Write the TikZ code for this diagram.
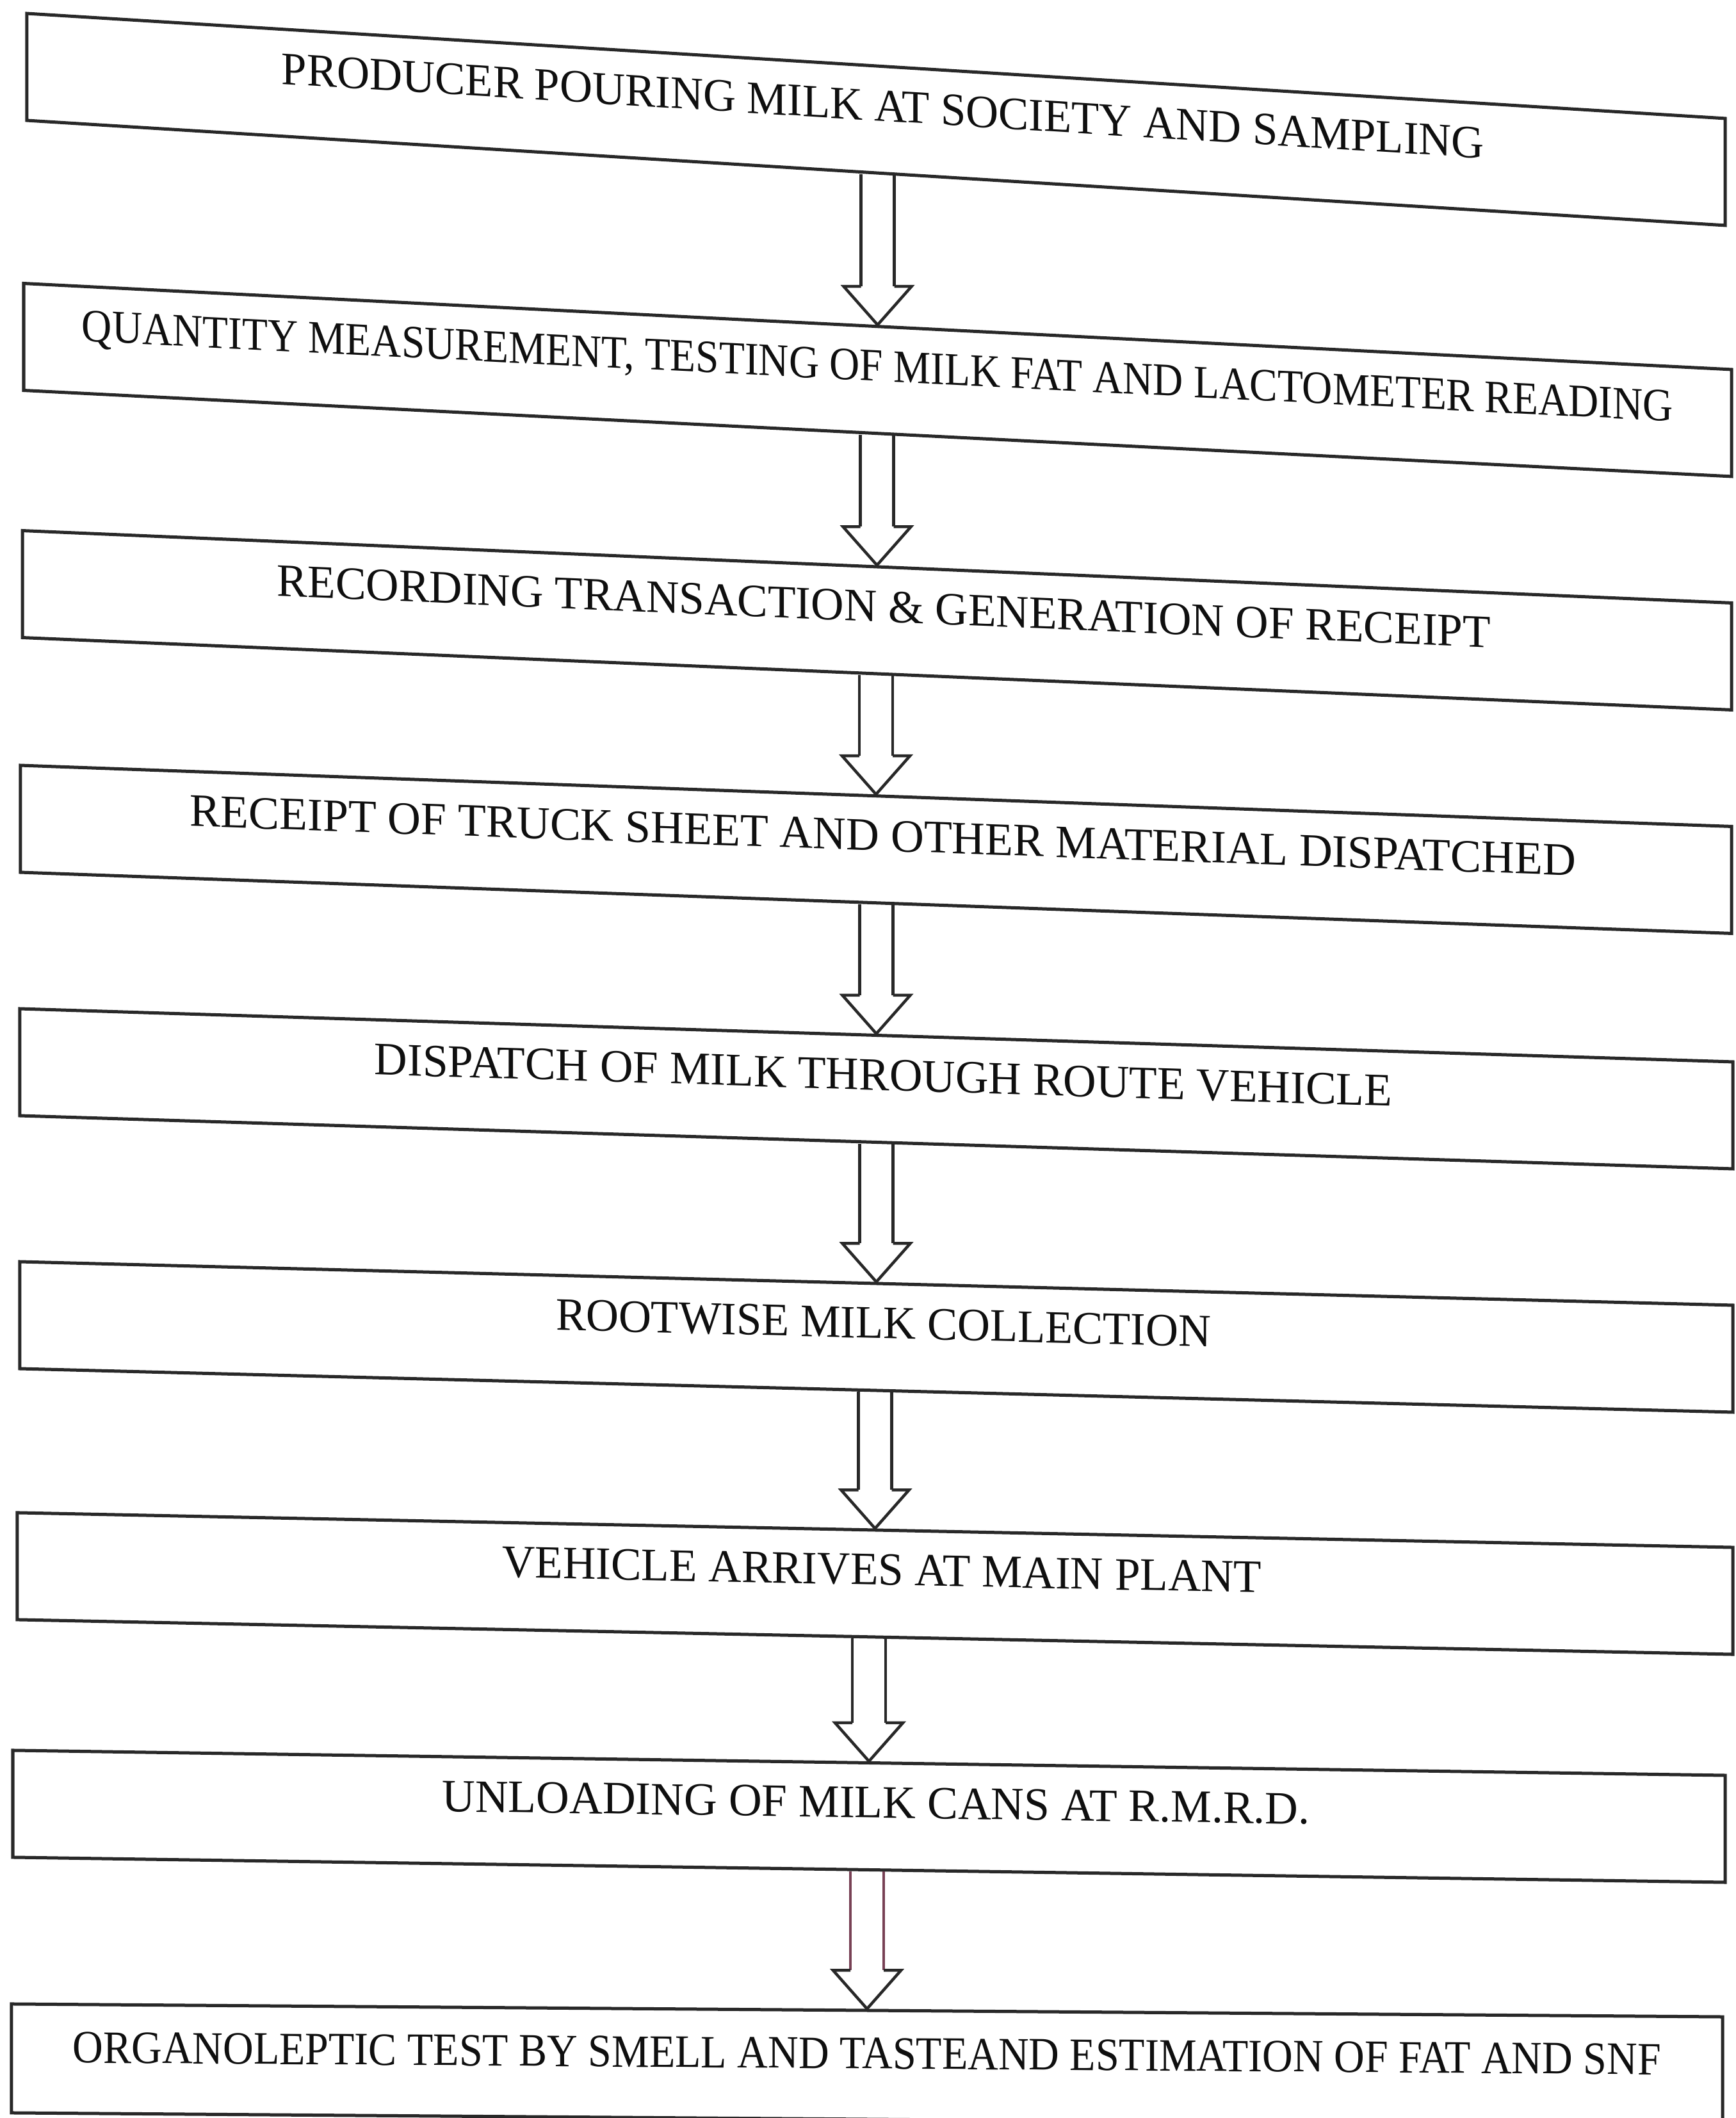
\documentclass[tikz,border=0pt]{standalone}
\usepackage{fontspec}
\setmainfont{Liberation Serif}
\usepackage{graphicx}
\usetikzlibrary{calc}
\definecolor{inkline}{RGB}{40,40,40}
\definecolor{inktext}{RGB}{15,15,15}
\definecolor{pinkink}{RGB}{120,65,85}
\tikzset{
  stepbox/.style={draw=inkline, line width=0.05cm, rectangle, inner sep=0pt,
    minimum height=1.67cm, text height=0.855cm, text depth=0.815cm,
    font=\fontsize{20.6pt}{24pt}\selectfont, text=inktext},
  arrowline/.style={draw=inkline, line width=0.045cm, line join=miter},
}
\newcommand\boxtext[2]{\hspace*{0.22cm}\resizebox{#1}{\height}{#2}}
\newcommand\hollowarrow[3][inkline]{%
  \coordinate (tipP) at (#3.north);
  \coordinate (startP) at (#3.north |- #2.south);
  \draw[arrowline, draw=#1] ($(startP)+(-0.26,0)$) -- ($(tipP)+(-0.26,0.60)$);
  \draw[arrowline, draw=#1] ($(startP)+(0.26,0)$) -- ($(tipP)+(0.26,0.60)$);
  \draw[arrowline] ($(tipP)+(-0.26,0.60)$) -- ($(tipP)+(-0.53,0.60)$) -- (tipP)
    -- ($(tipP)+(0.53,0.60)$) -- ($(tipP)+(0.26,0.60)$);
}
\begin{document}
\begin{tikzpicture}
\useasboundingbox (0,0) rectangle (27.11,33.07);
\node[stepbox, minimum width=26.52cm, yslant=-0.0618] (b1) at (13.68,31.205)
  {\boxtext{18.78cm}{PRODUCER POURING MILK AT SOCIETY AND SAMPLING}};
\node[stepbox, minimum width=26.67cm, yslant=-0.0504] (b2) at (13.705,27.1375)
  {\resizebox{24.85cm}{\height}{QUANTITY MEASUREMENT, TESTING OF MILK FAT AND LACTOMETER READING}};
\node[stepbox, minimum width=26.69cm, yslant=-0.0423] (b3) at (13.695,23.385)
  {\boxtext{18.95cm}{RECORDING TRANSACTION \& GENERATION OF RECEIPT}};
\node[stepbox, minimum width=26.72cm, yslant=-0.0357] (b4) at (13.68,19.8075)
  {\boxtext{21.64cm}{RECEIPT OF TRUCK SHEET AND OTHER MATERIAL DISPATCHED}};
\node[stepbox, minimum width=26.75cm, yslant=-0.031] (b5) at (13.685,16.07)
  {\boxtext{15.89cm}{DISPATCH OF MILK THROUGH ROUTE VEHICLE}};
\node[stepbox, minimum width=26.75cm, yslant=-0.0254] (b6) at (13.685,12.195)
  {\boxtext{10.23cm}{ROOTWISE MILK COLLECTION}};
\node[stepbox, minimum width=26.79cm, yslant=-0.0202] (b7) at (13.665,8.345)
  {\boxtext{11.86cm}{VEHICLE ARRIVES AT MAIN PLANT}};
\node[stepbox, minimum width=26.74cm, yslant=-0.0146] (b8) at (13.57,4.71)
  {\boxtext{13.55cm}{UNLOADING OF MILK CANS AT R.M.R.D.}};
\node[stepbox, minimum width=26.72cm, minimum height=1.70cm, text height=0.91cm, text depth=0.79cm, yslant=-0.0075] (b9) at (13.54,0.83)
  {\resizebox{24.80cm}{\height}{ORGANOLEPTIC TEST BY SMELL AND TASTEAND ESTIMATION OF FAT AND SNF}};
\hollowarrow{b1}{b2}
\hollowarrow{b2}{b3}
\hollowarrow{b3}{b4}
\hollowarrow{b4}{b5}
\hollowarrow{b5}{b6}
\hollowarrow{b6}{b7}
\hollowarrow{b7}{b8}
\hollowarrow[pinkink]{b8}{b9}
\end{tikzpicture}
\end{document}
